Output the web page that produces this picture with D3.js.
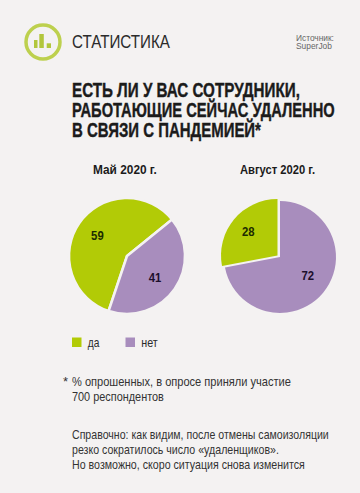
<!DOCTYPE html>
<html>
<head>
<meta charset="utf-8">
<script src="https://cdn.jsdelivr.net/npm/d3@7"></script>
<style>
html, body { margin: 0; padding: 0; background: #f4f2f2; }
text { font-family: "Liberation Sans", sans-serif; }
</style>
</head>
<body>
<svg id="chart" width="360" height="493"></svg>
<script>
const categories = ["да", "нет"]
const periods = ["Май 2020 г.", "Август 2020 г."]
const may_values = [59, 41]
const august_values = [28, 72]
const title_lines = ["ЕСТЬ ЛИ У ВАС СОТРУДНИКИ,", "РАБОТАЮЩИЕ СЕЙЧАС УДАЛЕННО", "В СВЯЗИ С ПАНДЕМИЕЙ*"]
const source_lines = ["Источник:", "SuperJob"]
const note_lines = ["% опрошенных, в опросе приняли участие", "700 респондентов"]
const info_lines = ["Справочно: как видим, после отмены самоизоляции", "резко сократилось число «удаленщиков».", "Но возможно, скоро ситуация снова изменится"]

const svg = d3.select("#chart")
const color = d3.scaleOrdinal().domain(categories).range(["#b2cb06", "#a88dbd"])
const bg = "#f4f2f2"

svg.append("rect").attr("width", 360).attr("height", 493).attr("fill", bg)

// no condensed face is installed, so each text is scaled to the measured width
function squeeze(node, x, y, width) {
    let scale = width / node.getComputedTextLength()
    d3.select(node).attr("transform", `translate(${x},${y}) scale(${scale},1)`)
}

function textBlock(cls, lines, x, ys, widths, size, fill, weight = "normal") {
    svg.selectAll("." + cls)
        .data(lines)
        .join("text")
        .attr("class", cls)
        .attr("font-size", size)
        .attr("font-weight", weight)
        .attr("fill", fill)
        .text(d => d)
        .each(function(d, i) { squeeze(this, x, ys[i], widths[i]) })
}

// header
const logo = svg.append("g").attr("transform", "translate(43,42)")
logo.append("circle").attr("r", 17).attr("fill", "none").attr("stroke", "#bdd04e").attr("stroke-width", 3.5)
logo.selectAll("rect")
    .data([[-9, -2, 3.5, 8], [-3.7, -8, 4.5, 14], [3.7, 1.3, 4.3, 4.7]])
    .join("rect")
    .attr("x", d => d[0]).attr("y", d => d[1])
    .attr("width", d => d[2]).attr("height", d => d[3])
    .attr("fill", "#b2c63c")

textBlock("head", ["СТАТИСТИКА"], 72, [48], [98], 18, "#2b2b2b")
textBlock("source", source_lines, 296, [41, 49], [38, 36], 8.5, "#666")
textBlock("title", title_lines, 72, [97, 116.8, 136.5], [228, 263, 189], 20, "#1b1b1b", "bold")
svg.selectAll(".title").attr("stroke", "#1b1b1b").attr("stroke-width", 0.4)

// pies
function drawPie(cls, label, labelX, labelW, values, startDeg, slices, strokeW, nudges) {
    const pie = d3.pie().sort(null)
        .startAngle(startDeg * Math.PI / 180)
        .endAngle((startDeg + 360) * Math.PI / 180)
    const g = svg.append("g")

    g.selectAll("path")
        .data(pie(values))
        .join("path")
        .attr("transform", (d, i) => `translate(${slices[i].x},${slices[i].y})`)
        .attr("d", (d, i) => d3.arc().innerRadius(0).outerRadius(slices[i].r)(d))
        .attr("fill", (d, i) => color(categories[i]))
        .attr("stroke", strokeW ? bg : "none")
        .attr("stroke-width", strokeW)

    const labelArc = d3.arc().innerRadius(36).outerRadius(36)
    g.selectAll("text")
        .data(pie(values))
        .join("text")
        .attr("font-size", 13).attr("font-weight", "bold")
        .attr("fill", (d, i) => i == 0 ? "#1c2c00" : "#1c0f2c")
        .text(d => d.value)
        .each(function(d, i) {
            let c = labelArc.centroid(d)
            squeeze(this, slices[i].x + c[0] + nudges[i][0] - 6.3, slices[i].y + c[1] + nudges[i][1] + 4.7, 12.6)
        })

    textBlock(cls, [label], labelX, [174], [labelW], 12.5, "#1b1b1b", "bold")
}

// left pie has an even gap, right pie has its green slice pulled out
drawPie("period-may", periods[0], 93, 64, may_values, 198.5,
    [{x: 127, y: 256, r: 58}, {x: 127, y: 256, r: 58}], 2.5, [[0, 0], [-1.5, 1]])
drawPie("period-aug", periods[1], 240, 75, august_values, 259.2,
    [{x: 277.5, y: 255.5, r: 56.5}, {x: 280, y: 257, r: 56}], 0, [[-1.5, -1], [0, -5]])

// legend
const legendX = [72, 125.5]
const legendW = [11.6, 16.5]
svg.selectAll(".legend-box")
    .data(categories)
    .join("rect")
    .attr("class", "legend-box")
    .attr("x", (d, i) => legendX[i]).attr("y", 337.5)
    .attr("width", 9.5).attr("height", 9.5)
    .attr("fill", d => color(d))
textBlock("legend-label", categories, 0, [346.7, 346.7], legendW, 13, "#2b2b2b")
svg.selectAll(".legend-label").each(function(d, i) { squeeze(this, legendX[i] + 15.7, 346.7, legendW[i]) })

// notes
svg.append("text").attr("x", 63).attr("y", 386).attr("font-size", 13)
    .attr("fill", "#333").text("*")
textBlock("note", note_lines, 72, [386, 400.7], [219, 92], 13, "#333")
textBlock("info", info_lines, 72, [439.3, 454.3, 469], [257, 207, 233], 13, "#333")
</script>
</body>
</html>
